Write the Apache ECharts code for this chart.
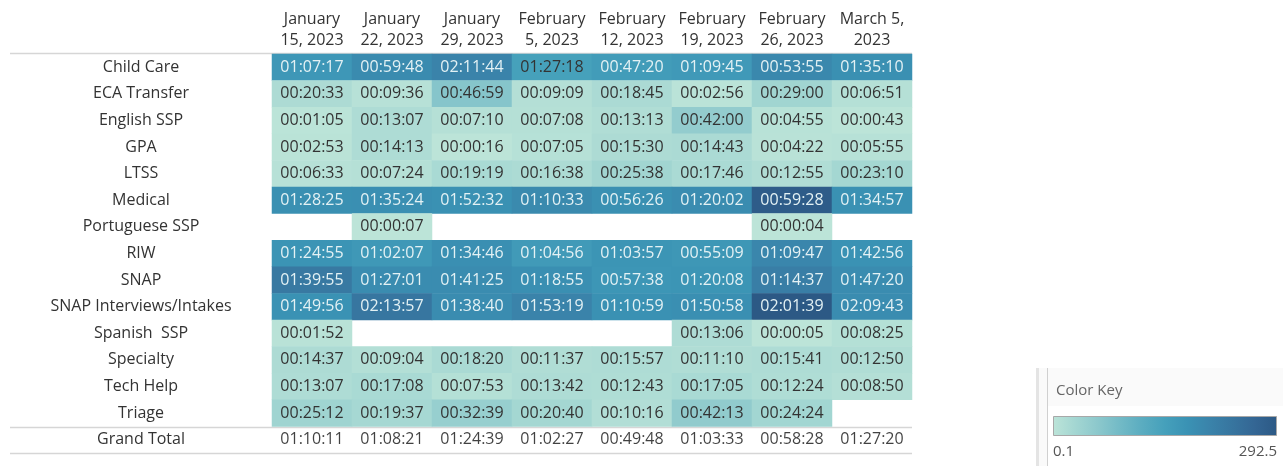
<!DOCTYPE html>
<html>
<head>
<meta charset="utf-8">
<script src="https://cdn.jsdelivr.net/npm/echarts@6/dist/echarts.min.js"></script>
<style>
  html, body { margin: 0; padding: 0; background: #ffffff; }
  #chart { width: 1283px; height: 466px; }
</style>
</head>
<body>
<div id="chart"></div>
<script>
// ---- Data ----
const weeks = ['January\n15, 2023', 'January\n22, 2023', 'January\n29, 2023', 'February\n5, 2023',
               'February\n12, 2023', 'February\n19, 2023', 'February\n26, 2023', 'March 5,\n2023'];
const rowNames = ['Child Care', 'ECA Transfer', 'English SSP', 'GPA', 'LTSS', 'Medical', 'Portuguese SSP',
                  'RIW', 'SNAP', 'SNAP Interviews/Intakes', 'Spanish  SSP', 'Specialty', 'Tech Help', 'Triage'];
const totalLabel = 'Grand Total';

// Displayed durations (text in each cell); '' = no cell
const durations = [
  ['01:07:17', '00:59:48', '02:11:44', '01:27:18', '00:47:20', '01:09:45', '00:53:55', '01:35:10'],
  ['00:20:33', '00:09:36', '00:46:59', '00:09:09', '00:18:45', '00:02:56', '00:29:00', '00:06:51'],
  ['00:01:05', '00:13:07', '00:07:10', '00:07:08', '00:13:13', '00:42:00', '00:04:55', '00:00:43'],
  ['00:02:53', '00:14:13', '00:00:16', '00:07:05', '00:15:30', '00:14:43', '00:04:22', '00:05:55'],
  ['00:06:33', '00:07:24', '00:19:19', '00:16:38', '00:25:38', '00:17:46', '00:12:55', '00:23:10'],
  ['01:28:25', '01:35:24', '01:52:32', '01:10:33', '00:56:26', '01:20:02', '00:59:28', '01:34:57'],
  ['', '00:00:07', '', '', '', '', '00:00:04', ''],
  ['01:24:55', '01:02:07', '01:34:46', '01:04:56', '01:03:57', '00:55:09', '01:09:47', '01:42:56'],
  ['01:39:55', '01:27:01', '01:41:25', '01:18:55', '00:57:38', '01:20:08', '01:14:37', '01:47:20'],
  ['01:49:56', '02:13:57', '01:38:40', '01:53:19', '01:10:59', '01:50:58', '02:01:39', '02:09:43'],
  ['00:01:52', '', '', '', '', '00:13:06', '00:00:05', '00:08:25'],
  ['00:14:37', '00:09:04', '00:18:20', '00:11:37', '00:15:57', '00:11:10', '00:15:41', '00:12:50'],
  ['00:13:07', '00:17:08', '00:07:53', '00:13:42', '00:12:43', '00:17:05', '00:12:24', '00:08:50'],
  ['00:25:12', '00:19:37', '00:32:39', '00:20:40', '00:10:16', '00:42:13', '00:24:24', '']
];

// Colour measure (read off the shading, key 0.1 .. 292.5); null = no cell
const colorValues = [
  [165, 190, 205, 145, 155, 160, 195, 180],
  [18, 6, 65, 10, 20, 2, 32, 8],
  [1, 16, 8, 8, 14, 50, 5, 0.5],
  [3, 17, 0.3, 7, 18, 20, 4, 6],
  [6, 8, 22, 19, 32, 21, 14, 28],
  [180, 182, 178, 192, 180, 187, 285, 178],
  [null, 0.2, null, null, null, null, 0.1, null],
  [172, 162, 182, 158, 170, 166, 198, 176],
  [225, 188, 188, 182, 168, 170, 215, 188],
  [176, 232, 188, 205, 178, 182, 292, 188],
  [4, null, null, null, null, 17, 0.2, 9],
  [18, 11, 21, 14, 17, 14, 16, 14],
  [17, 22, 9, 17, 15, 22, 15, 10],
  [34, 26, 45, 28, 12, 52, 30, null]
];

const grandTotals = ['01:10:11', '01:08:21', '01:24:39', '01:02:27', '00:49:48', '01:03:33', '00:58:28', '01:27:20'];

const keyMin = 0.1, keyMax = 292.5;
const keyTitle = 'Color Key';

// ---- Styling ----
const palette = ['#bce4d8', '#a3d6d2', '#8cc8cc', '#72bac6', '#5aacc0', '#45a0bb',
                 '#3a92b4', '#3a83aa', '#37759f', '#346694', '#2c5985'];
const FONT = 'Open Sans';
const FS = 16;
const darkText = '#333333';
const lightText = '#e3f1f4';

const yCats = rowNames.concat([totalLabel]);

const heatData = [];
durations.forEach((row, r) => {
  row.forEach((txt, c) => {
    const v = colorValues[r][c];
    if (v === null || txt === '') return;
    heatData.push({
      value: [c, r, v],
      label: { color: v >= 150 ? lightText : darkText }
    });
  });
});
const totalData = grandTotals.map((t, c) => [c, yCats.length - 1]);

const gridLeft = 272, gridRight = 912, gridTop = 54, gridBottom = 453;
const lineColor = '#d6d6d6';

const chart = echarts.init(document.getElementById('chart'), null, { renderer: 'canvas' });
chart.setOption({
  animation: false,
  backgroundColor: '#ffffff',
  grid: { left: gridLeft, right: 1283 - gridRight, top: gridTop, bottom: 466 - gridBottom, containLabel: false },
  xAxis: {
    type: 'category',
    data: weeks,
    position: 'top',
    axisLine: { show: false },
    axisTick: { show: false },
    splitLine: { show: false },
    axisLabel: {
      interval: 0, margin: 3, fontFamily: FONT, fontSize: FS, lineHeight: 21, color: '#333333'
    }
  },
  yAxis: {
    type: 'category',
    data: yCats,
    inverse: true,
    axisLine: { show: false },
    axisTick: { show: false },
    splitLine: { show: false },
    axisLabel: {
      interval: 0, align: 'center', margin: 131, fontFamily: FONT, fontSize: FS, color: '#333333'
    }
  },
  visualMap: {
    show: false, type: 'continuous', seriesIndex: 0, dimension: 2,
    min: keyMin, max: keyMax, inRange: { color: palette }
  },
  series: [
    {
      type: 'heatmap',
      data: heatData,
      itemStyle: { borderWidth: 0 },
      label: {
        show: true, fontFamily: FONT, fontSize: FS,
        formatter: p => durations[p.value[1]][p.value[0]]
      },
      emphasis: { disabled: true }
    },
    {
      type: 'scatter',
      data: totalData,
      symbol: 'rect', symbolSize: 1,
      itemStyle: { color: 'rgba(0,0,0,0)' },
      label: {
        show: true, position: 'inside', fontFamily: FONT, fontSize: FS, color: '#111111',
        formatter: p => grandTotals[p.value[0]]
      },
      emphasis: { disabled: true }
    }
  ],
  graphic: [
    { type: 'line', shape: { x1: 10, y1: 53.5, x2: gridRight, y2: 53.5 }, style: { stroke: lineColor, lineWidth: 1.5 } },
    { type: 'line', shape: { x1: 10, y1: 427.5, x2: gridRight, y2: 427.5 }, style: { stroke: lineColor, lineWidth: 1.5 } },
    { type: 'line', shape: { x1: 10, y1: 453.5, x2: gridRight, y2: 453.5 }, style: { stroke: lineColor, lineWidth: 1.5 } },
    // Colour key panel
    { type: 'rect', shape: { x: 1036, y: 368, width: 247, height: 98 }, style: { fill: '#fafafa' }, z: 0 },
    { type: 'rect', shape: { x: 1047, y: 406, width: 236, height: 60 }, style: { fill: '#ffffff' }, z: 1 },
    { type: 'rect', shape: { x: 1036, y: 368, width: 3, height: 98 }, style: { fill: '#e4e4e4' }, z: 1 },
    { type: 'line', shape: { x1: 1047.5, y1: 368, x2: 1047.5, y2: 466 }, style: { stroke: '#d0d0d0', lineWidth: 1 }, z: 1 },
    { type: 'text', x: 1056, y: 391, style: { text: keyTitle, fontFamily: FONT, fontSize: 15, fill: '#666666', verticalAlign: 'middle' }, z: 2 },
    {
      type: 'rect', shape: { x: 1053.5, y: 416.5, width: 223, height: 19 }, z: 2,
      style: {
        stroke: '#a8a8a8', lineWidth: 1,
        fill: new echarts.graphic.LinearGradient(0, 0, 1, 0,
          palette.map((c, i) => ({ offset: i / (palette.length - 1), color: c })))
      }
    },
    { type: 'text', x: 1053, y: 452, style: { text: String(keyMin), fontFamily: FONT, fontSize: 15, fill: '#555555', verticalAlign: 'middle' }, z: 2 },
    { type: 'text', x: 1277, y: 452, style: { text: String(keyMax), fontFamily: FONT, fontSize: 15, fill: '#555555', align: 'right', verticalAlign: 'middle' }, z: 2 }
  ]
});
</script>
</body>
</html>
